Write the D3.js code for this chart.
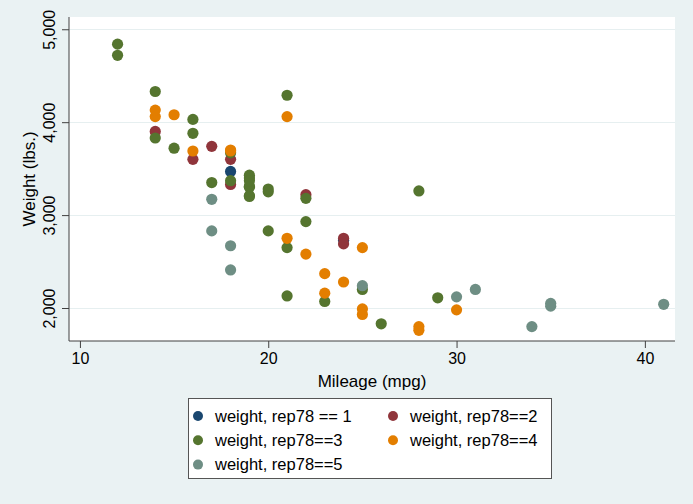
<!DOCTYPE html>
<html>
<head>
<meta charset="utf-8">
<script src="https://cdn.jsdelivr.net/npm/d3@7"></script>
<style>
  body { margin: 0; background: #EAF2F3; }
  svg { display: block; font-family: "Liberation Sans", Arial, sans-serif; }
</style>
</head>
<body>
<script>
// auto data, weight vs mpg split by rep78
const rep1Mpg = [24, 18];
const rep1Weight = [2730, 3470];

const rep2Mpg = [14, 22, 24, 18, 16, 17, 18, 24];
const rep2Weight = [3900, 3220, 2750, 3600, 3600, 3740, 3330, 2690];

const rep3Mpg = [22, 17, 20, 18, 20, 16, 19, 14, 21, 29, 22, 19, 21, 12, 12, 14, 15, 18, 20, 19, 19, 19, 16, 28, 25, 19, 19, 23, 21, 26];
const rep3Weight = [2930, 3350, 3250, 3670, 3280, 3880, 3400, 4330, 4290, 2110, 3180, 3430, 2650, 4840, 4720, 3830, 3720, 3370, 2830, 3310, 3300, 3370, 4030, 3260, 2200, 3210, 3200, 2070, 2130, 1830];

const rep4Mpg = [15, 16, 28, 22, 14, 14, 21, 18, 18, 25, 23, 24, 21, 28, 30, 23, 25, 25];
const rep4Weight = [4080, 3690, 1800, 2580, 4060, 4130, 4060, 3690, 3700, 2650, 2370, 2280, 2750, 1760, 1980, 2160, 1930, 1990];

const rep5Mpg = [30, 34, 17, 35, 25, 35, 18, 31, 18, 41, 17];
const rep5Weight = [2120, 1800, 2830, 2020, 2240, 2050, 2410, 2200, 2670, 2040, 3170];

const seriesNames = ["weight, rep78 == 1", "weight, rep78==2", "weight, rep78==3", "weight, rep78==4", "weight, rep78==5"];
const seriesColors = ["#1A476F", "#90353B", "#55752F", "#E37E00", "#6E8E84"];
const xTicks = [10, 20, 30, 40];
const yTicks = [2000, 3000, 4000, 5000];

const series = [
  [rep1Mpg, rep1Weight],
  [rep2Mpg, rep2Weight],
  [rep3Mpg, rep3Weight],
  [rep4Mpg, rep4Weight],
  [rep5Mpg, rep5Weight]
].map((s, i) => ({
  name: seriesNames[i],
  color: seriesColors[i],
  points: s[0].map((m, j) => ({ x: m, y: s[1][j] }))
}));

const W = 693, H = 504;
const plot = { left: 69, right: 675, top: 17, bottom: 341 };

const svg = d3.select("body").append("svg")
  .attr("width", W)
  .attr("height", H);

svg.append("rect")
  .attr("width", W)
  .attr("height", H)
  .attr("fill", "#EAF2F3");

svg.append("rect")
  .attr("x", plot.left)
  .attr("y", plot.top)
  .attr("width", plot.right - plot.left)
  .attr("height", plot.bottom - plot.top)
  .attr("fill", "#ffffff");

const x = d3.scaleLinear()
  .domain([9.42, 41.6])
  .range([plot.left, plot.right]);

const y = d3.scaleLinear()
  .domain([1645, 5132])
  .range([plot.bottom, plot.top]);

// gridlines
svg.append("g")
  .selectAll("line")
  .data(yTicks)
  .enter()
  .append("line")
  .attr("x1", plot.left)
  .attr("x2", plot.right)
  .attr("y1", d => Math.round(y(d)) + 0.5)
  .attr("y2", d => Math.round(y(d)) + 0.5)
  .attr("stroke", "#E6EFF0")
  .attr("stroke-width", 1.2);

// points
series.forEach(s => {
  svg.append("g")
    .selectAll("circle")
    .data(s.points)
    .enter()
    .append("circle")
    .attr("cx", d => x(d.x))
    .attr("cy", d => y(d.y))
    .attr("r", 5.6)
    .attr("fill", s.color);
});

// axes
const xAxis = svg.append("g")
  .attr("transform", `translate(0,${plot.bottom})`)
  .call(d3.axisBottom(x).tickValues(xTicks).tickSize(7).tickSizeOuter(0).tickPadding(5));

const yAxis = svg.append("g")
  .attr("transform", `translate(${plot.left},0)`)
  .call(d3.axisLeft(y).tickValues(yTicks).tickSize(7).tickSizeOuter(0).tickFormat(d3.format(",")));

[xAxis, yAxis].forEach(a => {
  a.select(".domain").attr("stroke", "#404040");
  a.selectAll(".tick line").attr("stroke", "#404040");
  a.selectAll("text")
    .attr("fill", "#000")
    .style("font-size", "16px")
    .style("font-family", "Liberation Sans, Arial, sans-serif");
});

xAxis.selectAll(".domain").attr("d", `M${plot.left},0H${plot.right}`);
yAxis.selectAll(".domain").attr("d", `M0,${plot.top}V${plot.bottom}`);

yAxis.selectAll(".tick text")
  .attr("x", null)
  .attr("dy", null)
  .attr("text-anchor", "middle")
  .attr("transform", "translate(-14,0) rotate(-90)");

// axis titles
svg.append("text")
  .attr("x", (plot.left + plot.right) / 2)
  .attr("y", 387)
  .attr("text-anchor", "middle")
  .style("font-size", "17px")
  .text("Mileage (mpg)");

svg.append("text")
  .attr("transform", `translate(35,${(plot.top + plot.bottom) / 2}) rotate(-90)`)
  .attr("text-anchor", "middle")
  .style("font-size", "17px")
  .text("Weight (lbs.)");

// legend
const legend = svg.append("g");
legend.append("rect")
  .attr("x", 188.5)
  .attr("y", 398.5)
  .attr("width", 363)
  .attr("height", 80)
  .attr("fill", "#ffffff")
  .attr("stroke", "#555")
  .attr("stroke-width", 1);

const items = legend.selectAll("g.item")
  .data(series)
  .enter()
  .append("g")
  .attr("class", "item")
  .attr("transform", (d, i) => `translate(${i % 2 === 0 ? 198 : 393},${416 + Math.floor(i / 2) * 24.3})`);

items.append("circle")
  .attr("r", 5)
  .attr("fill", d => d.color);

items.append("text")
  .attr("x", d => 17)
  .attr("y", 5.8)
  .style("font-size", "16.5px")
  .text(d => d.name);
</script>
</body>
</html>
